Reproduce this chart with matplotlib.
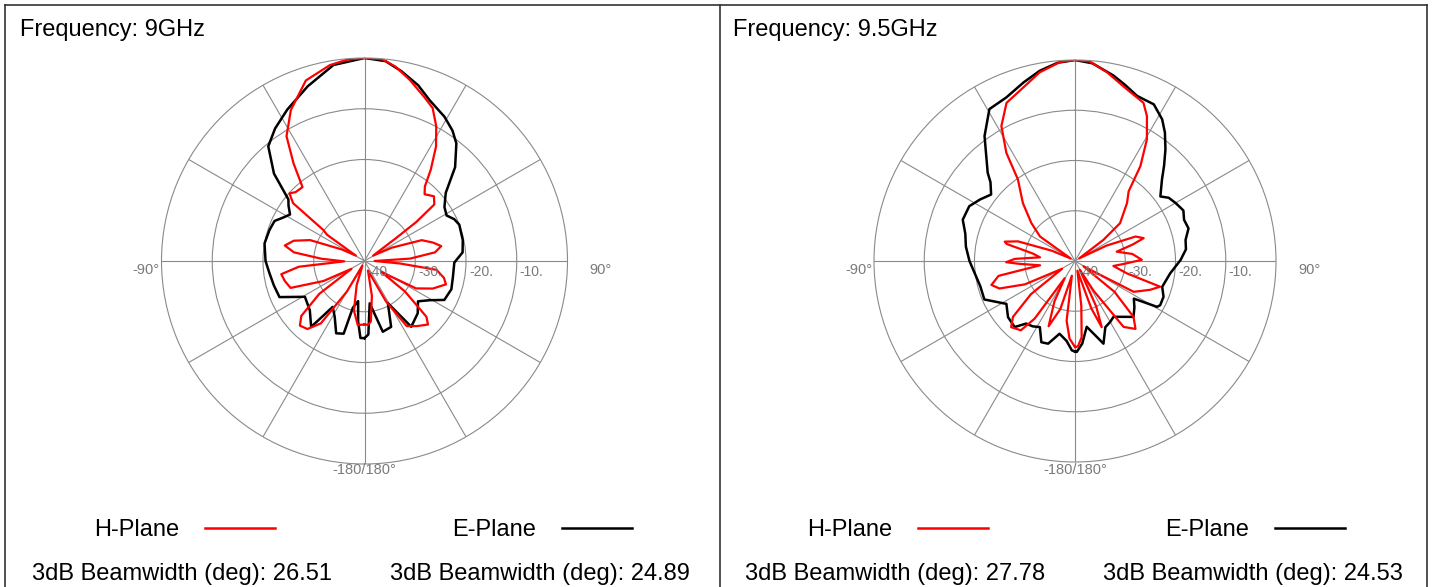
import numpy as np
import matplotlib
matplotlib.use("Agg")
import matplotlib.pyplot as plt
from matplotlib.lines import Line2D

plt.rcParams['font.family'] = ['Liberation Sans', 'DejaVu Sans']

W, H = 1434, 587

# 9 GHz, H-plane (red): angle in deg, level in dB
h9_ang = [-180, -174, -168, -162, -156, -150, -145, -140, -135, -131, -126, -121, -116, -110, -104, -99,
          -95, -91, -87, -83, -79, -74, -69, -63, -58, -55, -53, -51, -48, -45, -40, -36, -32, -26, -18,
          -10, -5, 0, 5, 9, 14, 20, 24, 28, 32, 36, 39, 42, 47, 51, 53, 54, 58, 64, 70, 75, 79, 83, 87,
          90, 94, 97, 102, 106, 112, 118, 123, 127, 132, 135, 141, 147, 152, 160, 168, 174, 177, 180]
h9_db = [-27.5, -27.3, -30, -35, -39, -33, -25, -22.5, -22, -23.5, -29, -37, -31, -24.5, -23.8, -23.4,
         -27, -36, -31.5, -26, -24, -25.5, -28.5, -35, -38, -31, -29.8, -21.9, -20.1, -20.8, -21, -16.2,
         -11, -6.9, -2.6, -0.8, -0.2, 0, -0.1, -1.2, -3.2, -5.6, -7.0, -9.9, -13.4, -17.8, -21.1, -22.3,
         -21.3, -22.3, -27.2, -32.3, -38, -34, -28, -26, -24.6, -26, -31, -38, -33, -25.7, -24, -23.3,
         -25.5, -28.5, -36, -30, -23.6, -22.3, -23.5, -24.7, -31, -38, -33, -28, -27.4, -27.5]

# 9 GHz, E-plane (black)
e9_ang = [-180, -177, -174, -171, -166, -164, -158.6, -152, -145.3, -141, -132, -121, -113, -105, -97, -90,
          -80, -72, -66, -62, -58, -54, -51, -46, -40, -34, -27, -18, -9, 0, 6, 11, 17, 22, 29, 34, 38,
          44, 50, 56, 61, 65, 69, 78, 85, 91, 100, 108, 116, 121, 127, 134.5, 144.6, 151, 158, 165.5,
          173, 177, 180]
e9_db = [-24.8, -24.8, -28, -32, -30.5, -25.1, -24.7, -27.5, -29, -23.3, -25.5, -26.3, -21.8, -21.5,
         -21.1, -20.5, -20, -20.3, -20.6, -21.8, -22.7, -21.5, -20.7, -15.2, -10.5, -8.5, -6.5, -3.8,
         -0.9, 0, -0.4, -1.9, -3.8, -5.8, -7.5, -9, -10.6, -14.3, -19.1, -21, -21.5, -20.5, -20, -20.2,
         -20.6, -22.3, -22.3, -22, -22.5, -25, -26.8, -25.3, -24.1, -30.5, -26, -25.6, -31.6, -25.5,
         -24.8]

# 9.5 GHz, H-plane (red)
h95_ang = [-180, -176, -172, -168, -163, -158, -153, -149, -145, -142, -136, -132, -127, -121, -115, -110,
           -106, -101, -97, -93, -91, -88, -84, -80, -76, -74.6, -71, -66, -60, -55, -49, -42, -35, -32.4,
           -28.6, -23.4, -16.7, -10.6, -4.3, 0, 4.3, 9.6, 16.8, 23.4, 26.4, 30.6, 34.6, 37.6, 41.9, 50,
           53.4, 58, 64, 68, 71.6, 74, 77.4, 83, 89, 93, 97.4, 103.4, 106.8, 111, 117.7, 122, 128, 133.7,
           138.3, 143.6, 148, 151, 155, 158, 161, 166, 172, 175, 178, 180]
h95_db = [-22.9, -24.5, -28, -37, -30, -26, -31, -36, -26, -22.5, -21.7, -23.4, -29, -37, -29, -24,
          -22.7, -24.5, -33, -29, -26.3, -28, -33, -31.5, -26, -25.5, -28, -35, -39, -31.5, -28.5, -24.5,
          -20.2, -14.5, -9.4, -5.7, -4.0, -1.8, -0.3, 0, -0.2, -1.9, -4.3, -5.7, -7.8, -11.9, -17.1,
          -22.5, -24.5, -28.3, -33, -39, -33, -27, -25.6, -28, -31.5, -28.5, -26.7, -30, -32.3, -29.4,
          -22.3, -24, -26.8, -38, -30, -23.9, -21.9, -23.7, -33, -38, -30, -25.8, -30, -38, -31, -24.8,
          -23, -22.9]

# 9.5 GHz, E-plane (black)
e95_ang = [-180, -178, -174, -168, -162, -157.5, -152, -147, -142, -137.6, -130, -122, -113, -105, -97,
           -90, -82.5, -76, -69.8, -62.6, -57, -51.6, -47, -44.7, -40, -35.9, -29.4, -22.8, -16, -10.5,
           -5, 0, 5, 11.7, 16, 20.6, 26.7, 31.6, 35, 39, 43, 46.9, 52.9, 56, 60, 65, 69.3, 74, 79.2, 84,
           89.5, 97.4, 106.5, 112, 117.4, 119.2, 122.6, 128, 133.7, 140, 145.4, 150, 155.4, 161, 164,
           169.9, 175, 178.9, 180]
e95_db = [-22, -22.2, -24, -25.2, -22.7, -22.5, -25.1, -24.5, -24.2, -22.2, -22.6, -23.9, -20.4, -20.5,
          -19.9, -19, -18.1, -17.5, -16.2, -16.3, -17.5, -18.7, -17, -15.3, -12.5, -9.3, -5.3, -4.7, -3,
          -1.5, -0.4, 0, -0.5, -2.3, -3.6, -4.9, -5.1, -6.9, -8.8, -11.4, -14, -16.3, -18.7, -17.5, -16.9,
          -16.2, -16.8, -16.5, -17.6, -17.8, -19, -20.9, -21.9, -21, -20.9, -21.3, -26.1, -25, -23.9,
          -25.5, -26.5, -26, -25.5, -22.6, -24.3, -26.7, -23.5, -21.9, -22]

freqs = ["9GHz", "9.5GHz"]
bw_h = ["26.51", "27.78"]
bw_e = ["24.89", "24.53"]
ring_labels = ["-40.", "-30.", "-20.", "-10."]
ring_vals = [-40, -30, -20, -10]

fig = plt.figure(figsize=(W / 100, H / 100), dpi=100)


def fx(x):
    return x / W


def fy(y):
    return 1 - y / H


def panel(off, cx, cy, rad, h_ang, h_db, e_ang, e_db, freq, bwh, bwe):
    ax = fig.add_axes([fx(cx - rad), fy(cy + rad), 2 * rad / W, 2 * rad / H], projection='polar')
    ax.set_theta_zero_location('N')
    ax.set_theta_direction(-1)
    ax.set_ylim(-40, 0)
    ax.set_yticks([-30, -20, -10])
    ax.set_yticklabels([])
    ax.set_xticks(np.deg2rad(np.arange(0, 360, 30)))
    ax.set_xticklabels([])
    ax.grid(True, color='#8a8a8a', lw=0.8)
    ax.spines['polar'].set_color('#8a8a8a')
    ax.spines['polar'].set_linewidth(0.8)
    ax.set_facecolor('none')

    ax.plot(np.deg2rad(e_ang), e_db, color='black', lw=1.8)
    ax.plot(np.deg2rad(h_ang), h_db, color='red', lw=1.6)

    gray = '#7a7a7a'
    for lbl, v in zip(ring_labels, ring_vals):
        xpix = cx + (v + 40) / 40 * rad + 3
        fig.text(fx(xpix), fy(cy + 11), lbl, fontsize=10, color=gray, va='center', ha='left')
    fig.text(fx(cx - rad - 2), fy(cy + 9), "-90°", fontsize=10.5, color=gray, va='center', ha='right')
    fig.text(fx(cx + rad + 22), fy(cy + 9), "90°", fontsize=10.5, color=gray, va='center', ha='left')
    fig.text(fx(cx), fy(cy + 209), "-180/180°", fontsize=10.5, color=gray, va='center', ha='center')

    fig.text(fx(off + 20), fy(36), "Frequency: " + freq, fontsize=17, va='baseline')
    fig.text(fx(off + 94), fy(536), "H-Plane", fontsize=17, va='baseline')
    fig.text(fx(off + 452), fy(536), "E-Plane", fontsize=17, va='baseline')
    fig.add_artist(Line2D([fx(off + 205), fx(off + 275)], [fy(528), fy(528)], color='red', lw=1.8))
    fig.add_artist(Line2D([fx(off + 562), fx(off + 632)], [fy(528), fy(528)], color='black', lw=1.8))
    fig.text(fx(off + 32), fy(580), "3dB Beamwidth (deg): " + bwh, fontsize=17, va='baseline')
    fig.text(fx(off + 390), fy(580), "3dB Beamwidth (deg): " + bwe, fontsize=17, va='baseline')


panel(0, 364.5, 261, 203, h9_ang, h9_db, e9_ang, e9_db, freqs[0], bw_h[0], bw_e[0])
panel(713, 1075, 261, 201, h95_ang, h95_db, e95_ang, e95_db, freqs[1], bw_h[1], bw_e[1])

# panel frames
frame = '#333333'
fig.add_artist(Line2D([fx(5), fx(1427)], [fy(5), fy(5)], color=frame, lw=1.2))
for xb in [5, 720, 1427]:
    fig.add_artist(Line2D([fx(xb), fx(xb)], [fy(5), fy(587)], color=frame, lw=1.2))

fig.savefig("out.png", dpi=100)
